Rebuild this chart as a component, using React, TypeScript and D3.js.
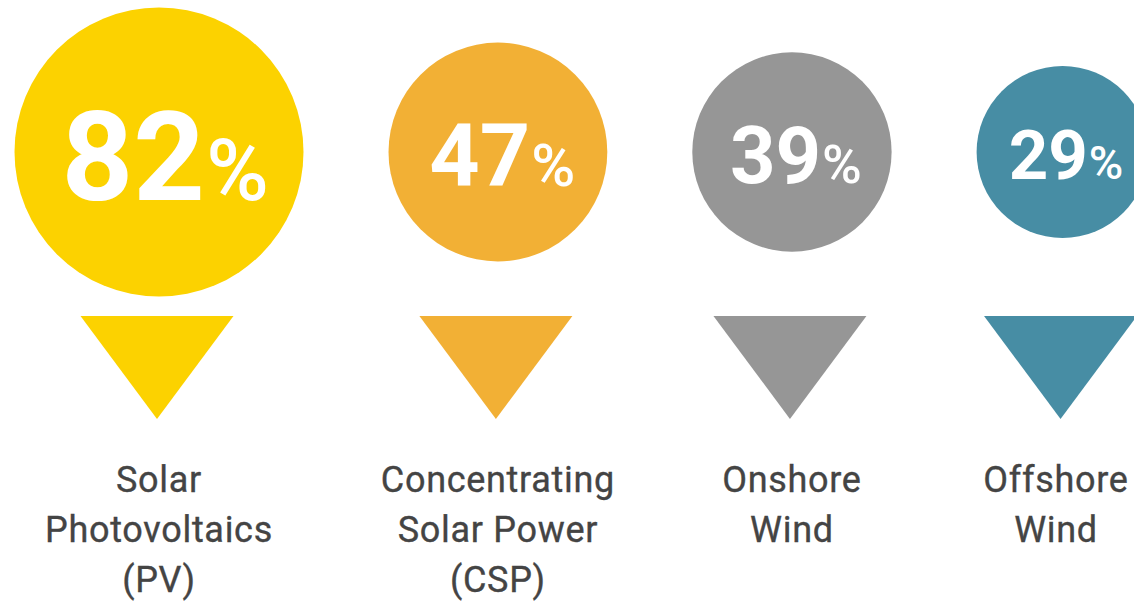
import React from "react";
import * as d3 from "d3";

const categories = ["Solar Photovoltaics (PV)", "Concentrating Solar Power (CSP)", "Onshore Wind", "Offshore Wind"];
const labelLines = [
  ["Solar", "Photovoltaics", "(PV)"],
  ["Concentrating", "Solar Power", "(CSP)"],
  ["Onshore", "Wind"],
  ["Offshore", "Wind"],
];
const values = [82, 47, 39, 29];
const colors = ["#FCD200", "#F2B035", "#969696", "#478DA4"];

const W = 1134;
const H = 603;

export default function App() {
  const rScale = d3.scaleSqrt().domain([0, 82]).range([0, 144.5]);
  const fontScale = d3.scaleLinear().domain([29, 82]).range([69, 125]);
  const gap = 85;
  const cy = 152;
  const left = 14.5;

  const centers: number[] = [];
  let x = left;
  values.forEach((v, i) => {
    const r = rScale(v);
    if (i > 0) x += gap;
    centers.push(x + r);
    x += 2 * r;
  });

  const triTop = 316;
  const triH = 103;
  const triHalf = 76.5;
  const labelY0 = 492;
  const lineH = 50;

  return (
    <svg
      width={W}
      height={H}
      style={{ position: "absolute", left: 0, top: 0, display: "block" }}
      fontFamily="Roboto, sans-serif"
    >
      <rect width={W} height={H} fill="#ffffff" />
      {categories.map((c, i) => {
        const cx = centers[i];
        const r = rScale(values[i]);
        const fs = fontScale(values[i]);
        const tri = d3.path();
        tri.moveTo(cx - 2 - triHalf, triTop);
        tri.lineTo(cx - 2 + triHalf, triTop);
        tri.lineTo(cx - 2, triTop + triH);
        tri.closePath();
        return (
          <g key={c}>
            <circle cx={cx} cy={cy} r={r} fill={colors[i]} />
            <text
              x={cx + fs * 0.05}
              y={cy + fs * 0.385}
              textAnchor="middle"
              fill="#ffffff"
              fontWeight={700}
              fontSize={fs}
            >
              {values[i]}
              <tspan fontSize={fs * 0.68} fontWeight={500} dx={fs * 0.01}>%</tspan>
            </text>
            <path d={tri.toString()} fill={colors[i]} />
            <text
              textAnchor="middle"
              fill="#444444"
              fontSize={36}
              fontWeight={400}
              letterSpacing={0.7}
              stroke="#444444"
              strokeWidth={0.35}
            >
              {labelLines[i].map((l, j) => (
                <tspan key={j} x={Math.min(cx, W - 78)} y={labelY0 + j * lineH}>
                  {l}
                </tspan>
              ))}
            </text>
          </g>
        );
      })}
    </svg>
  );
}
